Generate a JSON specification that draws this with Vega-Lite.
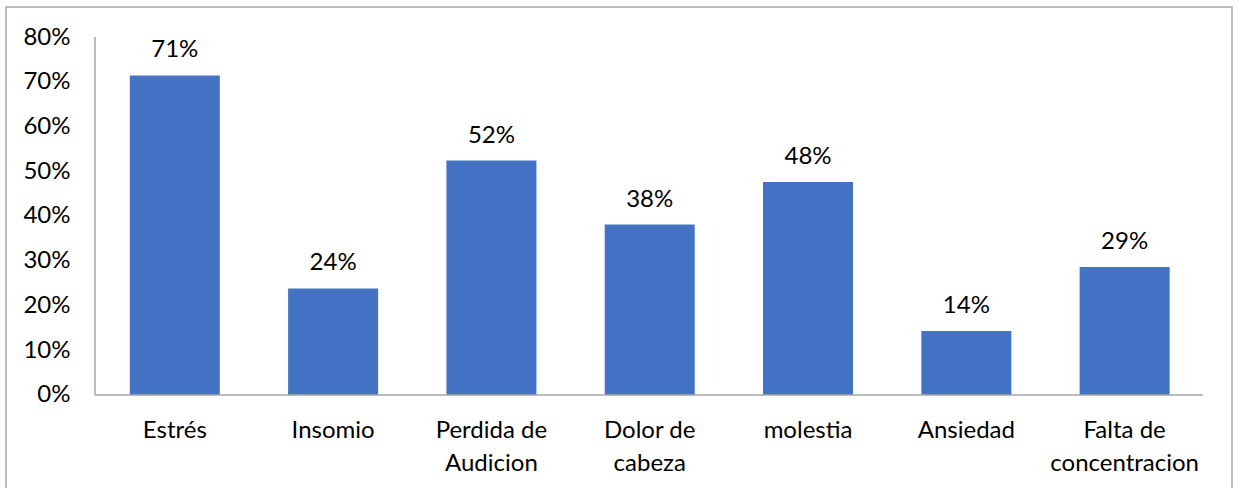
{
  "$schema": "https://vega.github.io/schema/vega-lite/v6.json",
  "autosize": "none",
  "width": 1226,
  "height": 486,
  "padding": {"left": 6, "top": 7, "right": 6, "bottom": 0},
  "background": "white",
  "config": {
    "view": {"stroke": "#a6a6a6", "strokeWidth": 1.5},
    "font": "Lato",
    "axis": {"labelFont": "Lato", "labelFontSize": 24, "labelColor": "#000000", "grid": false, "ticks": false, "domain": false, "title": null}
  },
  "datasets": {
    "bars": [
      {"sintoma": "Estrés", "valor": 0.714},
      {"sintoma": "Insomio", "valor": 0.238},
      {"sintoma": "Perdida de Audicion", "valor": 0.524},
      {"sintoma": "Dolor de cabeza", "valor": 0.381},
      {"sintoma": "molestia", "valor": 0.476},
      {"sintoma": "Ansiedad", "valor": 0.143},
      {"sintoma": "Falta de concentracion", "valor": 0.286}
    ],
    "yline": [{"pos": 0, "lo": 0, "hi": 0.8}],
    "xline": [{"start": 0, "end": 7, "base": 0}]
  },
  "layer": [
    {
      "data": {"name": "bars"},
      "encoding": {
        "x": {
          "field": "sintoma", "type": "nominal", "sort": null,
          "scale": {"paddingInner": 0.4314, "paddingOuter": 0.588, "align": 0.665},
          "axis": {
            "orient": "bottom", "offset": -98, "labelAngle": 0, "labelPadding": 23,
            "labelLineHeight": 33, "labelBaseline": "top",
            "labelExpr": "indexof(datum.label, ' de ') > 0 ? [slice(datum.label, 0, indexof(datum.label, ' de ') + 3), slice(datum.label, indexof(datum.label, ' de ') + 4)] : datum.label"
          }
        },
        "y": {
          "field": "valor", "type": "quantitative",
          "scale": {"domain": [-0.219, 0.86704], "nice": false, "zero": false},
          "axis": {"orient": "left", "offset": -89, "values": [0, 0.1, 0.2, 0.3, 0.4, 0.5, 0.6, 0.7, 0.8], "format": ".0%", "labelPadding": 25}
        }
      },
      "layer": [
        {"mark": {"type": "bar", "color": "#4472C4"}, "encoding": {"y2": {"datum": 0}}},
        {"mark": {"type": "text", "baseline": "alphabetic", "dy": -18, "fontSize": 24, "font": "Lato", "color": "#000000"},
         "encoding": {"text": {"field": "valor", "type": "quantitative", "format": ".0%"}}}
      ]
    },
    {
      "layer": [
        {
          "data": {"name": "yline"},
          "mark": {"type": "rule", "color": "#a6a6a6", "strokeWidth": 1.5},
          "encoding": {
            "x": {"field": "pos", "type": "quantitative", "scale": {"domain": [-0.5623, 7.1832], "nice": false, "zero": false}, "axis": null},
            "y": {"field": "lo", "type": "quantitative"},
            "y2": {"field": "hi"}
          }
        },
        {
          "data": {"name": "xline"},
          "mark": {"type": "rule", "color": "#a6a6a6", "strokeWidth": 1.5},
          "encoding": {
            "x": {"field": "start", "type": "quantitative", "scale": {"domain": [-0.5623, 7.1832], "nice": false, "zero": false}, "axis": null},
            "x2": {"field": "end"},
            "y": {"field": "base", "type": "quantitative"}
          }
        }
      ]
    }
  ],
  "resolve": {"scale": {"x": "independent"}, "axis": {"x": "independent"}}
}
